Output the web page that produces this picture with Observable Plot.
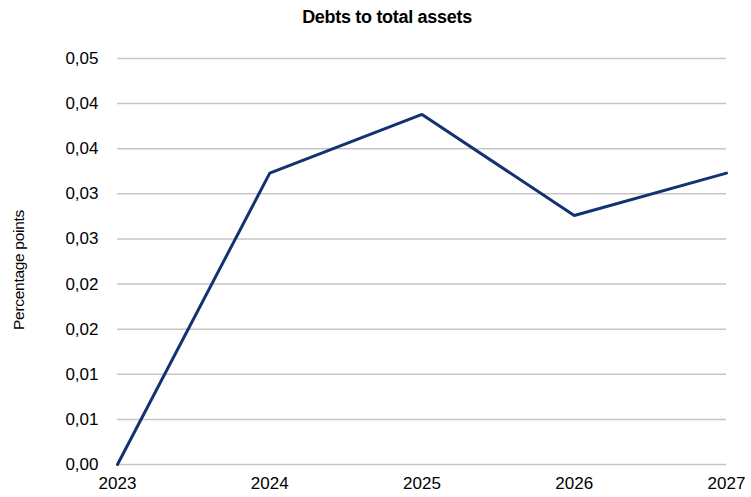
<!DOCTYPE html>
<html>
<head>
<meta charset="utf-8">
<script src="https://cdn.jsdelivr.net/npm/d3@7"></script>
<script src="https://cdn.jsdelivr.net/npm/@observablehq/plot@0.6"></script>
<style>
  html, body { margin: 0; padding: 0; background: #fff; }
  #wrap { position: relative; width: 751px; height: 497px; font-family: "Liberation Sans", Arial, sans-serif; }
  #title { position: absolute; left: 0; top: 7px; width: 774px; text-align: center; font-weight: bold; font-size: 18px; color: #000; letter-spacing: -0.3px; }
  #ylabel { position: absolute; left: 19px; top: 270px; transform: translate(-50%, -50%) rotate(-90deg); white-space: nowrap; font-size: 15.5px; color: #000; letter-spacing: -0.3px; }
</style>
</head>
<body>
<div id="wrap">
  <div id="chart"></div>
  <div id="title">Debts to total assets</div>
  <div id="ylabel">Percentage points</div>
</div>
<script>
const years = [2023, 2024, 2025, 2026, 2027];
const values = [0.0000, 0.0323, 0.0388, 0.0276, 0.0323];
const yTicks = [0, 0.005, 0.01, 0.015, 0.02, 0.025, 0.03, 0.035, 0.04, 0.045];
const yTickLabels = ["0,00", "0,01", "0,01", "0,02", "0,02", "0,03", "0,03", "0,04", "0,04", "0,05"];
const xTicks = [2023, 2024, 2025, 2026, 2027];

const data = years.map((y, i) => ({year: y, value: values[i]}));

const chart = Plot.plot({
  width: 751,
  height: 497,
  marginTop: 58,
  marginBottom: 33,
  marginLeft: 117,
  marginRight: 25,
  style: {fontFamily: "'Liberation Sans', Arial, sans-serif", fontSize: "17px", color: "#000", background: "#fff"},
  x: {domain: [2023, 2027]},
  y: {domain: [0, 0.045]},
  marks: [
    Plot.gridY(yTicks, {stroke: "#c6c6c6", strokeOpacity: 1, strokeWidth: 1.5}),
    Plot.axisY(yTicks, {tickSize: 0, tickPadding: 19, label: null, tickFormat: (d, i) => yTickLabels[i]}),
    Plot.axisX(xTicks, {tickSize: 0, tickPadding: 12, label: null, tickFormat: d => String(d)}),
    Plot.line(data, {x: "year", y: "value", stroke: "#12336f", strokeWidth: 3, strokeLinejoin: "miter"})
  ]
});
document.getElementById("chart").appendChild(chart);
</script>
</body>
</html>
